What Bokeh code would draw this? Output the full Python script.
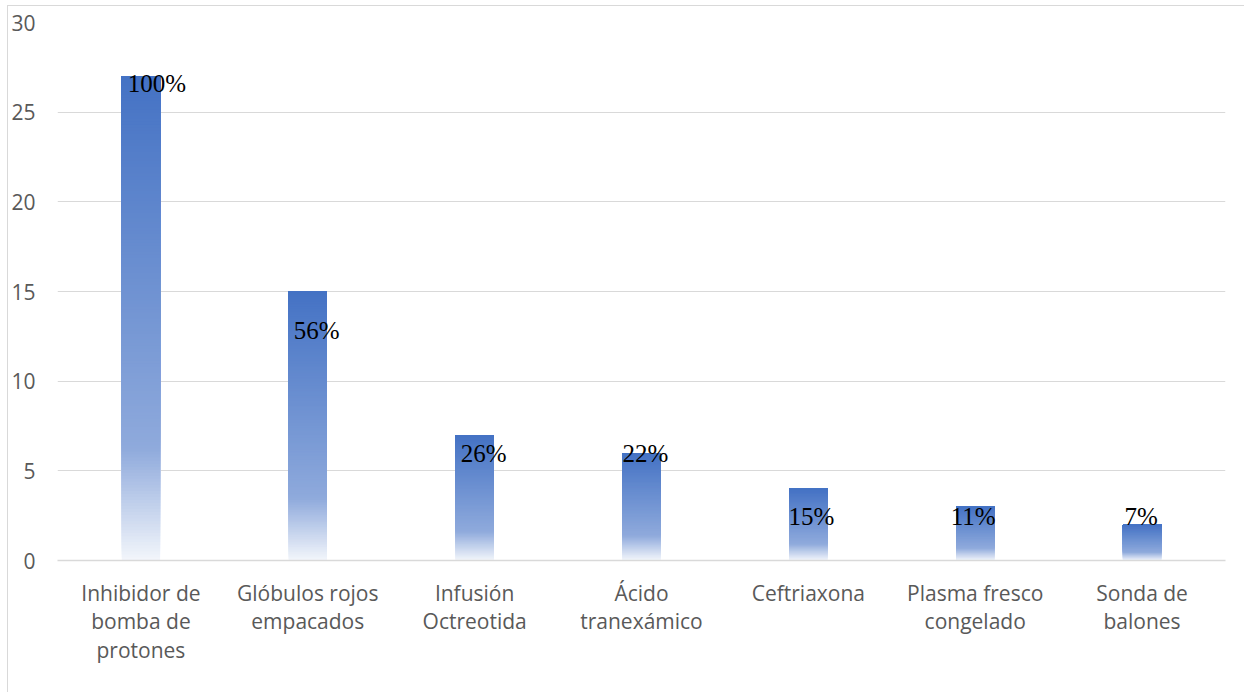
from bokeh.plotting import figure
from bokeh.models import ColumnDataSource, FactorRange, Range1d, FixedTicker
from bokeh.core.properties import value
from bokeh.embed import file_html
from bokeh.resources import INLINE

# Treatments and number of patients receiving each one
categories = [
    "Inhibidor de\nbomba de\nprotones",
    "Glóbulos rojos\nempacados",
    "Infusión\nOctreotida",
    "Ácido\ntranexámico",
    "Ceftriaxona",
    "Plasma fresco\ncongelado",
    "Sonda de\nbalones",
]
patients = [27, 15, 7, 6, 4, 3, 2]
percent_labels = ["100%", "56%", "26%", "22%", "15%", "11%", "7%"]

# Where each percentage label sits (data units) and its horizontal nudge (px)
label_y = [26.6, 12.8, 5.95, 5.95, 2.45, 2.48, 2.48]
label_dx = [16, 9, 9, 4, 3, -2, -1]

y_ticks = [0, 5, 10, 15, 20, 25, 30]

BAR_WIDTH = 0.23
N_SLICES = 160

# Vertical gradient stops (fraction measured from the bar top)
STOPS = [(0.0, (68, 114, 196)), (0.77, (143, 170, 220)), (1.0, (243, 246, 251))]


def gradient_color(f):
    for (f0, c0), (f1, c1) in zip(STOPS[:-1], STOPS[1:]):
        if f <= f1:
            t = (f - f0) / (f1 - f0)
            rgb = [round(a + (b - a) * t) for a, b in zip(c0, c1)]
            return "#%02x%02x%02x" % tuple(rgb)
    return "#%02x%02x%02x" % STOPS[-1][1]


p = figure(
    x_range=FactorRange(*categories),
    y_range=Range1d(0, 30),
    width=1236,
    height=686,
    output_backend="svg",
    toolbar_location=None,
    min_border_left=10,
    min_border_right=19,
    min_border_top=16,
    min_border_bottom=132,
)
p.margin = (6, 0, 0, 8)
p.background_fill_color = "white"
p.border_fill_color = "white"
p.outline_line_color = None

# Bars: stacked overlapping slices, each reaching the bar top, painted bottom-up
xs, bottoms, tops, colors = [], [], [], []
for cat, v in zip(categories, patients):
    for i in range(N_SLICES):
        b = v * i / N_SLICES
        f = 1 - (i + 0.5) / N_SLICES
        xs.append(cat)
        bottoms.append(b)
        tops.append(v)
        colors.append(gradient_color(f))

bar_src = ColumnDataSource(dict(x=xs, bottom=bottoms, top=tops, color=colors))
p.vbar(x="x", width=BAR_WIDTH, bottom="bottom", top="top", source=bar_src,
       fill_color="color", line_color=None)

# Percentage labels
lab_src = ColumnDataSource(dict(x=categories, y=label_y, text=percent_labels, dx=label_dx))
p.text(x="x", y="y", text="text", x_offset="dx", source=lab_src,
       text_align="center", text_baseline="middle",
       text_font=value("Liberation Serif"), text_font_size="25px",
       text_color="black")

# Grid
p.xgrid.grid_line_color = None
p.ygrid.grid_line_color = "#d9d9d9"
p.ygrid.grid_line_width = 1
p.ygrid.ticker = FixedTicker(ticks=y_ticks)

# Y axis
p.yaxis.ticker = FixedTicker(ticks=y_ticks)
p.yaxis.axis_line_color = None
p.yaxis.major_tick_line_color = None
p.yaxis.minor_tick_line_color = None
p.yaxis.major_label_text_font = "Open Sans"
p.yaxis.major_label_text_font_size = "21px"
p.yaxis.major_label_text_color = "#595959"
p.yaxis.major_label_standoff = 16

# X axis
p.xaxis.axis_line_color = "#d9d9d9"
p.xaxis.axis_line_width = 1.5
p.xaxis.major_tick_line_color = None
p.xaxis.minor_tick_line_color = None
p.xaxis.major_label_text_font = "Open Sans"
p.xaxis.major_label_text_font_size = "21px"
p.xaxis.major_label_text_color = "#595959"
p.xaxis.major_label_standoff = 12
p.xaxis.major_label_text_line_height = 1.02
p.xaxis.major_label_orientation = "horizontal"

html = file_html(p, INLINE)
# Thin frame around the chart area
html = html.replace(
    "<body>",
    "<body style=\"margin:0\"><div style=\"position:absolute;left:7px;top:5px;"
    "width:1300px;height:800px;border-left:1px solid #d9d9d9;"
    "border-top:1px solid #d9d9d9;pointer-events:none\"></div>",
)
open("out.html", "w").write(html)
